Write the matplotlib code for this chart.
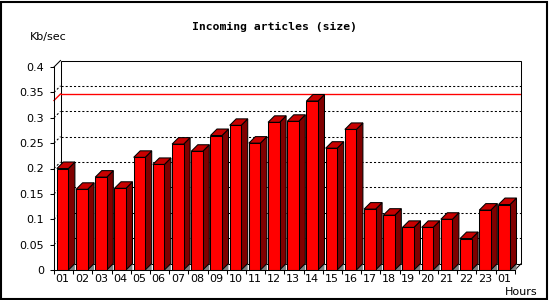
import numpy as np
import matplotlib
matplotlib.use("Agg")
import matplotlib.pyplot as plt
from matplotlib.patches import Polygon, Rectangle

# data (Kb/sec per hour)
hours = ["01", "02", "03", "04", "05", "06", "07", "08", "09", "10", "11", "12",
         "13", "14", "15", "16", "17", "18", "19", "20", "21", "22", "23", "01"]
kb_per_sec = [0.200, 0.159, 0.183, 0.161, 0.222, 0.208, 0.248, 0.234, 0.265, 0.285, 0.250, 0.291,
              0.293, 0.333, 0.240, 0.277, 0.120, 0.108, 0.084, 0.084, 0.100, 0.062, 0.118, 0.129]
peak_value = 0.334
y_ticks = [0, 0.05, 0.1, 0.15, 0.2, 0.25, 0.3, 0.35, 0.4]

W, H, DPI = 550, 300, 100
SLOT_PX = 19.2        # pixels per hour slot
UNIT_PX = 507.5       # pixels per 1 Kb/sec
DEPTH_PX = 6.5
DX = DEPTH_PX / SLOT_PX
DY = DEPTH_PX / UNIT_PX
BAR_OFF, BAR_W = 0.15, 0.6
YMAX = 0.4
N = len(kb_per_sec)

FRONT, SIDE, TOP, FLOOR = "#ff0000", "#800000", "#c80000", "#808080"
LW = 0.75

fig = plt.figure(figsize=(W / DPI, H / DPI), dpi=DPI)
fig.patch.set_facecolor("white")
x0, y0 = 54, 270
ax_w = (N + DX) * SLOT_PX
ax_h = (YMAX + DY) * UNIT_PX
ax = fig.add_axes([x0 / W, (H - y0) / H, ax_w / W, ax_h / H])
ax.set_xlim(0, N + DX)
ax.set_ylim(0, YMAX + DY)
ax.patch.set_alpha(0)

# back wall and grid
ax.add_patch(Rectangle((DX, DY), N, YMAX, fill=False, ec="black", lw=LW, zorder=1, clip_on=False))
for v in y_ticks[1:-1]:
    ax.plot([DX, N + DX], [v + DY, v + DY], color="black", lw=LW, ls=(0, (2, 2)), zorder=1)
    ax.plot([0, DX], [v, v + DY], color="black", lw=LW, ls=(0, (2, 2)), zorder=1, clip_on=False)
ax.plot([DX, N + DX], [peak_value + DY] * 2, color="red", lw=LW * 1.3, zorder=1)
ax.plot([0, DX], [peak_value, peak_value + DY], color="red", lw=LW * 1.3, zorder=1, clip_on=False)
ax.plot([0, DX], [YMAX, YMAX + DY], color="black", lw=LW, zorder=1, clip_on=False)
ax.plot([N, N + DX], [0, DY], color="black", lw=LW, zorder=1, clip_on=False)

# 3d bars
for i, v in enumerate(kb_per_sec):
    xl = i + BAR_OFF
    xr = xl + BAR_W
    ax.add_patch(Polygon([(xr, 0), (xr + DX, DY), (xr + DX, 0)], closed=True,
                         fc=FLOOR, ec="none", zorder=2))
    ax.add_patch(Polygon([(xr, 0), (xr, v), (xr + DX, v + DY), (xr + DX, DY)], closed=True,
                         fc=SIDE, ec="black", lw=LW, zorder=3))
    ax.add_patch(Polygon([(xl, v), (xl + DX, v + DY), (xr + DX, v + DY), (xr, v)], closed=True,
                         fc=TOP, ec="black", lw=LW, zorder=3))
    ax.add_patch(Rectangle((xl, 0), BAR_W, v, fc=FRONT, ec="black", lw=LW, zorder=4))

# axes
for s in ("top", "right"):
    ax.spines[s].set_visible(False)
ax.spines["left"].set_bounds(0, YMAX)
ax.spines["bottom"].set_bounds(0, N)
for s in ("left", "bottom"):
    ax.spines[s].set_linewidth(LW)
    ax.spines[s].set_zorder(5)

ax.set_yticks(y_ticks)
ax.set_yticklabels([f"{v:g}" for v in y_ticks])
ax.tick_params(axis="y", length=3, width=LW, pad=4, labelsize=8)

ax.set_xticks(np.arange(N + 1))
ax.set_xticklabels([])
ax.set_xticks(np.arange(N) + BAR_OFF + BAR_W / 2, minor=True)
ax.set_xticklabels(hours, minor=True)
ax.tick_params(axis="x", which="major", length=3, width=LW)
ax.tick_params(axis="x", which="minor", length=0, pad=3, labelsize=8)

fig.text(274 / W, 1 - 27 / H, "Incoming articles (size)", ha="center", va="center",
         family="DejaVu Sans Mono", weight="bold", fontsize=8.2)
fig.text(30 / W, 1 - 37 / H, "Kb/sec", ha="left", va="center", fontsize=8)
fig.text(505 / W, 1 - 292 / H, "Hours", ha="left", va="center", fontsize=8)

fig.patches.append(Rectangle((1 / W, 1 / H), 546 / W, 297.5 / H, transform=fig.transFigure,
                             fill=False, ec="black", lw=1.5))

fig.savefig("out.png", dpi=DPI, facecolor="white")
